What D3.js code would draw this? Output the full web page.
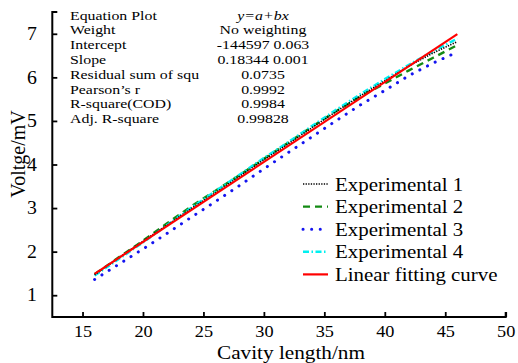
<!DOCTYPE html>
<html>
  <head>
    <title>Voltage vs cavity length</title>
    <script src="https://d3js.org/d3.v7.min.js"></script>
    <style>
      body { margin: 0; background: #fff; }
      svg { display: block; font-family: "Liberation Serif", "Times New Roman", serif; }
    </style>
  </head>
  <body>
    <script>
      // data
      const cavity = [16, 18, 20, 22, 24, 26, 28, 30, 32, 34, 36, 38, 40, 42, 44, 46];
      const exp1 = [1.47, 1.86, 2.24, 2.61, 2.99, 3.35, 3.73, 4.11, 4.47, 4.85, 5.22, 5.58, 5.92, 6.26, 6.56, 6.82];
      const exp2 = [1.48, 1.87, 2.25, 2.65, 3.04, 3.40, 3.76, 4.13, 4.50, 4.87, 5.23, 5.56, 5.86, 6.16, 6.45, 6.74];
      const exp3 = [1.36, 1.71, 2.06, 2.42, 2.79, 3.15, 3.52, 3.90, 4.27, 4.64, 5.01, 5.37, 5.70, 6.04, 6.33, 6.58];
      const exp4 = [1.45, 1.83, 2.21, 2.61, 3.01, 3.39, 3.77, 4.15, 4.51, 4.89, 5.26, 5.62, 5.96, 6.29, 6.60, 6.89];
      const fitX = [16, 46];
      const fitY = [1.489, 6.992];
      const seriesNames = ['Experimental 1', 'Experimental 2', 'Experimental 3', 'Experimental 4', 'Linear fitting curve'];
      const xTicks = [15, 20, 25, 30, 35, 40, 45, 50];
      const yTicks = [1, 2, 3, 4, 5, 6, 7];
      const statNames = ['Equation Plot', 'Weight', 'Intercept', 'Slope', 'Residual sum of squ', 'Pearson\u2019s r', 'R-square(COD)', 'Adj. R-square'];
      const statValues = ['y=a+bx', 'No weighting', '-144597 0.063', '0.18344 0.001', '0.0735', '0.9992', '0.9984', '0.99828'];

      const w = 518, h = 363;
      const plotL = 52.3, plotR = 505.7, plotT = 12, plotB = 317;

      const svg = d3.select('body').append('svg').attr('width', w).attr('height', h);

      const xScale = d3.scaleLinear().domain([12.5, 50]).range([plotL, plotR]);
      const yScale = d3.scaleLinear().domain([0.5, 7.5]).range([plotB, plotT]);

      // styles for each series, in legend order
      const styles = [
        { color: '#000', width: 1.6, dash: '1.3,1.3', cap: 'butt' },
        { color: '#138a13', width: 2.4, dash: '7,5', cap: 'butt' },
        { color: '#1414f0', width: 3, dash: '0.1,8.5', cap: 'round' },
        { color: '#00f0f0', width: 2.4, dash: '6,2.5,1.5,2.5', cap: 'butt' },
        { color: '#f00', width: 2.2, dash: null, cap: 'butt' }
      ];
      const series = [
        cavity.map((x, i) => [x, exp1[i]]),
        cavity.map((x, i) => [x, exp2[i]]),
        cavity.map((x, i) => [x, exp3[i]]),
        cavity.map((x, i) => [x, exp4[i]]),
        fitX.map((x, i) => [x, fitY[i]])
      ];

      const line = d3.line().x(d => xScale(d[0])).y(d => yScale(d[1]));

      // draw order: blue under, then green, cyan, black, red on top
      [2, 1, 3, 0, 4].forEach(i => {
        const s = styles[i];
        svg.append('path')
           .datum(series[i])
           .attr('d', line)
           .attr('fill', 'none')
           .attr('stroke', s.color)
           .attr('stroke-width', s.width)
           .attr('stroke-linecap', s.cap)
           .attr('stroke-dasharray', s.dash);
      });

      // axes, ticks pointing inward
      const xAxis = d3.axisBottom(xScale).tickValues(xTicks).tickSize(-5).tickPadding(9).tickSizeOuter(0);
      const gx = svg.append('g').attr('transform', `translate(0, ${plotB})`).call(xAxis);
      gx.select('.domain').remove();
      gx.selectAll('.tick line').attr('stroke-width', 1.8);
      gx.selectAll('text')
        .attr('font-size', 16)
        .attr('font-family', 'Liberation Serif')
        .attr('fill', '#000')
        .attr('transform', 'scale(1.14,1)');

      const yAxis = d3.axisLeft(yScale).tickValues(yTicks).tickFormat(d3.format('d'))
                      .tickSize(-5).tickPadding(14).tickSizeOuter(0);
      const gy = svg.append('g').attr('transform', `translate(${plotL}, 0)`).call(yAxis);
      gy.select('.domain').remove();
      gy.selectAll('.tick line').attr('stroke-width', 1.8);
      gy.selectAll('text')
        .attr('font-size', 18)
        .attr('font-family', 'Liberation Serif')
        .attr('fill', '#000')
        .attr('transform', 'scale(1.1,1)');

      svg.append('path')
         .attr('d', `M${plotL + 5},${plotT} H${plotL} V${plotB} H${plotR} V${plotB - 5}`)
         .attr('fill', 'none')
         .attr('stroke', '#000')
         .attr('stroke-width', 2);

      // axis titles
      svg.append('text')
         .attr('transform', `translate(291, 359) scale(1.18,1)`)
         .attr('text-anchor', 'middle')
         .attr('font-size', 18)
         .text('Cavity length/nm');

      svg.append('text')
         .attr('transform', `translate(25, 154) rotate(-90)`)
         .attr('text-anchor', 'middle')
         .attr('font-size', 20)
         .text('Voltge/mV');

      // fit statistics table
      const stats = svg.append('g').attr('font-size', 13);
      statNames.forEach((t, i) => {
        const y = 19.5 + i * 14.8;
        stats.append('text')
             .attr('transform', `translate(70, ${y}) scale(1.22,1)`)
             .text(t);
        stats.append('text')
             .attr('transform', `translate(263, ${y}) scale(1.22,1)`)
             .attr('text-anchor', 'middle')
             .attr('font-style', i === 0 ? 'italic' : 'normal')
             .text(statValues[i]);
      });

      // legend
      const legend = svg.append('g');
      seriesNames.forEach((name, i) => {
        const cy = 184 + i * 22.6;
        const s = styles[i];
        legend.append('line')
              .attr('x1', 303).attr('x2', 328)
              .attr('y1', cy).attr('y2', cy)
              .attr('stroke', s.color)
              .attr('stroke-width', s.width)
              .attr('stroke-linecap', s.cap)
              .attr('stroke-dasharray', s.dash);
        legend.append('text')
              .attr('transform', `translate(335, ${cy + 6.5}) scale(1.1,1)`)
              .attr('font-size', 19)
              .text(name);
      });
    </script>
  </body>
</html>
